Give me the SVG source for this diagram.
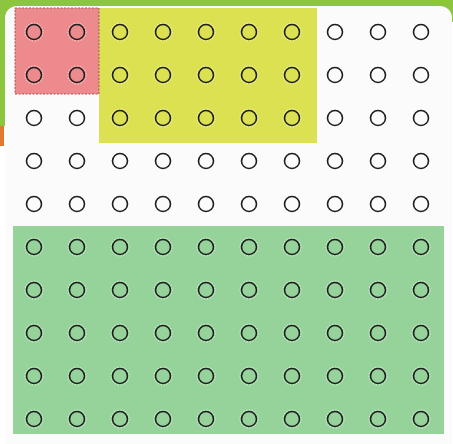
<svg xmlns="http://www.w3.org/2000/svg" width="453" height="444" viewBox="0 0 453 444">
<style>
.c{fill:none;stroke:#1e1e1e;stroke-width:1.6}
.h{fill:none;stroke:#ffffff;stroke-width:1;stroke-dasharray:1.5 1.5;opacity:0.7}
</style>
<defs>
<g id="dot"><circle class="h" r="9"/><circle class="c" r="7.5"/></g>
</defs>
<g id="frame">
<rect x="0" y="0" width="453" height="444" fill="#ffffff"/>
<rect x="0" y="0" width="453" height="22" fill="#8cc63f"/>
<rect x="0" y="0" width="5" height="126" fill="#8cc63f"/>
<rect x="0" y="126" width="4" height="20" fill="#e2772e"/>
<rect x="5" y="6" width="447" height="460" rx="12" fill="#fbfbfb"/>
</g>
<g id="regions">
<rect id="yellow" x="99" y="8" width="218" height="135" fill="#dbe151"/>
<rect id="red" x="15" y="8" width="84" height="86" fill="#ec8a8d" stroke="#a85555" stroke-width="1" stroke-dasharray="2 1.5"/>
<rect id="green" x="13" y="226" width="431" height="208" fill="#96d39b"/>
</g>
<g id="dots">
<g id="r1c1"><use href="#dot" x="34" y="32"/></g><g id="r1c2"><use href="#dot" x="77" y="32"/></g><g id="r1c3"><use href="#dot" x="120" y="32"/></g><g id="r1c4"><use href="#dot" x="163" y="32"/></g><g id="r1c5"><use href="#dot" x="206" y="32"/></g><g id="r1c6"><use href="#dot" x="249" y="32"/></g><g id="r1c7"><use href="#dot" x="292" y="32"/></g><g id="r1c8"><use href="#dot" x="335" y="32"/></g><g id="r1c9"><use href="#dot" x="378" y="32"/></g><g id="r1c10"><use href="#dot" x="421" y="32"/></g>
<g id="r2c1"><use href="#dot" x="34" y="75"/></g><g id="r2c2"><use href="#dot" x="77" y="75"/></g><g id="r2c3"><use href="#dot" x="120" y="75"/></g><g id="r2c4"><use href="#dot" x="163" y="75"/></g><g id="r2c5"><use href="#dot" x="206" y="75"/></g><g id="r2c6"><use href="#dot" x="249" y="75"/></g><g id="r2c7"><use href="#dot" x="292" y="75"/></g><g id="r2c8"><use href="#dot" x="335" y="75"/></g><g id="r2c9"><use href="#dot" x="378" y="75"/></g><g id="r2c10"><use href="#dot" x="421" y="75"/></g>
<g id="r3c1"><use href="#dot" x="34" y="118"/></g><g id="r3c2"><use href="#dot" x="77" y="118"/></g><g id="r3c3"><use href="#dot" x="120" y="118"/></g><g id="r3c4"><use href="#dot" x="163" y="118"/></g><g id="r3c5"><use href="#dot" x="206" y="118"/></g><g id="r3c6"><use href="#dot" x="249" y="118"/></g><g id="r3c7"><use href="#dot" x="292" y="118"/></g><g id="r3c8"><use href="#dot" x="335" y="118"/></g><g id="r3c9"><use href="#dot" x="378" y="118"/></g><g id="r3c10"><use href="#dot" x="421" y="118"/></g>
<g id="r4c1"><use href="#dot" x="34" y="161"/></g><g id="r4c2"><use href="#dot" x="77" y="161"/></g><g id="r4c3"><use href="#dot" x="120" y="161"/></g><g id="r4c4"><use href="#dot" x="163" y="161"/></g><g id="r4c5"><use href="#dot" x="206" y="161"/></g><g id="r4c6"><use href="#dot" x="249" y="161"/></g><g id="r4c7"><use href="#dot" x="292" y="161"/></g><g id="r4c8"><use href="#dot" x="335" y="161"/></g><g id="r4c9"><use href="#dot" x="378" y="161"/></g><g id="r4c10"><use href="#dot" x="421" y="161"/></g>
<g id="r5c1"><use href="#dot" x="34" y="204"/></g><g id="r5c2"><use href="#dot" x="77" y="204"/></g><g id="r5c3"><use href="#dot" x="120" y="204"/></g><g id="r5c4"><use href="#dot" x="163" y="204"/></g><g id="r5c5"><use href="#dot" x="206" y="204"/></g><g id="r5c6"><use href="#dot" x="249" y="204"/></g><g id="r5c7"><use href="#dot" x="292" y="204"/></g><g id="r5c8"><use href="#dot" x="335" y="204"/></g><g id="r5c9"><use href="#dot" x="378" y="204"/></g><g id="r5c10"><use href="#dot" x="421" y="204"/></g>
<g id="r6c1"><use href="#dot" x="34" y="247"/></g><g id="r6c2"><use href="#dot" x="77" y="247"/></g><g id="r6c3"><use href="#dot" x="120" y="247"/></g><g id="r6c4"><use href="#dot" x="163" y="247"/></g><g id="r6c5"><use href="#dot" x="206" y="247"/></g><g id="r6c6"><use href="#dot" x="249" y="247"/></g><g id="r6c7"><use href="#dot" x="292" y="247"/></g><g id="r6c8"><use href="#dot" x="335" y="247"/></g><g id="r6c9"><use href="#dot" x="378" y="247"/></g><g id="r6c10"><use href="#dot" x="421" y="247"/></g>
<g id="r7c1"><use href="#dot" x="34" y="290"/></g><g id="r7c2"><use href="#dot" x="77" y="290"/></g><g id="r7c3"><use href="#dot" x="120" y="290"/></g><g id="r7c4"><use href="#dot" x="163" y="290"/></g><g id="r7c5"><use href="#dot" x="206" y="290"/></g><g id="r7c6"><use href="#dot" x="249" y="290"/></g><g id="r7c7"><use href="#dot" x="292" y="290"/></g><g id="r7c8"><use href="#dot" x="335" y="290"/></g><g id="r7c9"><use href="#dot" x="378" y="290"/></g><g id="r7c10"><use href="#dot" x="421" y="290"/></g>
<g id="r8c1"><use href="#dot" x="34" y="333"/></g><g id="r8c2"><use href="#dot" x="77" y="333"/></g><g id="r8c3"><use href="#dot" x="120" y="333"/></g><g id="r8c4"><use href="#dot" x="163" y="333"/></g><g id="r8c5"><use href="#dot" x="206" y="333"/></g><g id="r8c6"><use href="#dot" x="249" y="333"/></g><g id="r8c7"><use href="#dot" x="292" y="333"/></g><g id="r8c8"><use href="#dot" x="335" y="333"/></g><g id="r8c9"><use href="#dot" x="378" y="333"/></g><g id="r8c10"><use href="#dot" x="421" y="333"/></g>
<g id="r9c1"><use href="#dot" x="34" y="376"/></g><g id="r9c2"><use href="#dot" x="77" y="376"/></g><g id="r9c3"><use href="#dot" x="120" y="376"/></g><g id="r9c4"><use href="#dot" x="163" y="376"/></g><g id="r9c5"><use href="#dot" x="206" y="376"/></g><g id="r9c6"><use href="#dot" x="249" y="376"/></g><g id="r9c7"><use href="#dot" x="292" y="376"/></g><g id="r9c8"><use href="#dot" x="335" y="376"/></g><g id="r9c9"><use href="#dot" x="378" y="376"/></g><g id="r9c10"><use href="#dot" x="421" y="376"/></g>
<g id="r10c1"><use href="#dot" x="34" y="419"/></g><g id="r10c2"><use href="#dot" x="77" y="419"/></g><g id="r10c3"><use href="#dot" x="120" y="419"/></g><g id="r10c4"><use href="#dot" x="163" y="419"/></g><g id="r10c5"><use href="#dot" x="206" y="419"/></g><g id="r10c6"><use href="#dot" x="249" y="419"/></g><g id="r10c7"><use href="#dot" x="292" y="419"/></g><g id="r10c8"><use href="#dot" x="335" y="419"/></g><g id="r10c9"><use href="#dot" x="378" y="419"/></g><g id="r10c10"><use href="#dot" x="421" y="419"/></g>
</g>
</svg>
